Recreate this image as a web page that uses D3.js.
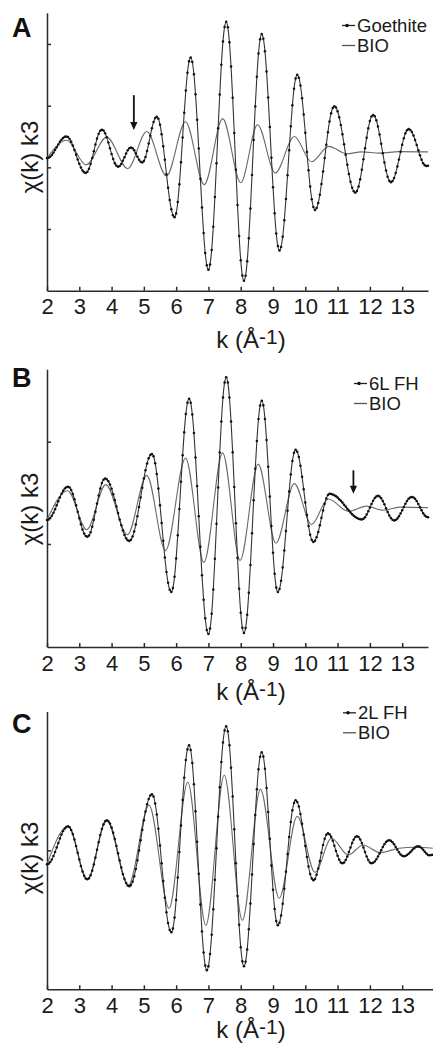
<!DOCTYPE html>
<html>
<head>
<meta charset="utf-8">
<script src="https://d3js.org/d3.v7.min.js"></script>
<style>
    body { margin: 0; background: #fff; }
    svg { display: block; font-family: "Liberation Sans", Arial, sans-serif; }
    .axis .domain, .axis .tick line { stroke: #2b2b2b; stroke-width: 1.5px; }
    .axis text { font-family: "Liberation Sans", Arial, sans-serif; font-size: 22px; fill: #1a1a1a; }
    .bio { fill: none; stroke: #6a6a6a; stroke-width: 1.1px; }
    .ref { fill: none; stroke: #333; stroke-width: 1.1px; }
    .dot { fill: #111; }
</style>
</head>
<body>
<div id="exafs"></div>
<script>
// k grid of the sampled (dotted) spectra, A^-1
var kStart = 2, kStep = 0.05;
var kTicks = [2, 3, 4, 5, 6, 7, 8, 9, 10, 11, 12, 13];

// chi(k)k^3, one value every 0.05 A^-1 (arbitrary units)
var goethite = [
    1.5, 1.56, 1.73, 2.01, 2.38, 2.8, 3.25, 3.7, 4.13, 4.49, 4.77, 4.94, 5.0, 4.9, 4.6, 4.14, 3.53, 2.81, 2.05, 1.29,
    0.58, -0.04, -0.5, -0.8, -0.9, -0.73, -0.24, 0.54, 1.52, 2.6, 3.69, 4.66, 5.44, 5.93, 6.1, 5.96, 5.53, 4.86, 4.03, 3.1,
    2.17, 1.34, 0.67, 0.24, 0.1, 0.22, 0.55, 1.06, 1.65, 2.24, 2.75, 3.08, 3.2, 3.08, 2.75, 2.27, 1.73, 1.25, 0.92, 0.8,
    1.02, 1.67, 2.65, 3.86, 5.14, 6.35, 7.33, 7.98, 8.2, 7.86, 6.91, 5.38, 3.42, 1.21, -1.11, -3.32, -5.28, -6.81, -7.76, -8.1,
    -7.48, -5.64, -2.76, 0.84, 4.85, 8.86, 12.46, 15.34, 17.18, 17.8, 17.08, 15.08, 11.85, 7.72, 3.04, -1.84, -6.52, -10.65, -13.88, -15.88,
    -16.6, -15.76, -13.42, -9.65, -4.82, 0.65, 6.35, 11.82, 16.65, 20.42, 22.76, 23.6, 22.72, 20.28, 16.33, 11.29, 5.58, -0.38, -6.09, -11.13,
    -15.08, -17.52, -18.4, -17.56, -15.24, -11.48, -6.68, -1.24, 4.44, 9.88, 14.68, 18.44, 20.76, 21.6, 20.86, 18.83, 15.53, 11.32, 6.54, 1.56,
    -3.22, -7.43, -10.73, -12.76, -13.5, -12.9, -11.25, -8.57, -5.15, -1.27, 2.77, 6.65, 10.07, 12.75, 14.4, 15.0, 14.54, 13.27, 11.21, 8.58,
    5.6, 2.5, -0.48, -3.11, -5.17, -6.44, -6.9, -6.61, -5.77, -4.45, -2.7, -0.67, 1.5, 3.67, 5.7, 7.45, 8.77, 9.61, 9.9, 9.69,
    9.09, 8.14, 6.88, 5.38, 3.74, 2.06, 0.42, -1.08, -2.34, -3.29, -3.89, -4.1, -3.84, -3.1, -1.92, -0.41, 1.31, 3.09, 4.81, 6.32,
    7.5, 8.24, 8.5, 8.27, 7.64, 6.61, 5.31, 3.82, 2.28, 0.79, -0.51, -1.54, -2.17, -2.4, -2.22, -1.72, -0.91, 0.12, 1.29, 2.51,
    3.68, 4.71, 5.52, 6.02, 6.2, 6.07, 5.73, 5.16, 4.44, 3.63, 2.77, 1.96, 1.24, 0.67, 0.33, 0.2, 0.25
];
var fh6L = [
    2.35, 2.4, 2.54, 2.76, 3.05, 3.4, 3.78, 4.17, 4.55, 4.9, 5.19, 5.41, 5.55, 5.6, 5.52, 5.27, 4.88, 4.37, 3.78, 3.15,
    2.52, 1.92, 1.42, 1.03, 0.78, 0.7, 0.82, 1.15, 1.69, 2.37, 3.15, 3.95, 4.73, 5.41, 5.95, 6.28, 6.4, 6.33, 6.14, 5.82,
    5.39, 4.87, 4.3, 3.67, 3.03, 2.4, 1.82, 1.31, 0.88, 0.56, 0.37, 0.3, 0.41, 0.73, 1.23, 1.9, 2.71, 3.61, 4.55, 5.49,
    6.39, 7.2, 7.87, 8.38, 8.69, 8.8, 8.57, 7.9, 6.83, 5.42, 3.79, 2.05, 0.31, -1.33, -2.73, -3.8, -4.47, -4.7, -4.3, -3.21,
    -1.43, 0.84, 3.41, 6.09, 8.66, 10.93, 12.71, 13.8, 14.2, 13.81, 12.66, 10.84, 8.45, 5.67, 2.7, -0.27, -3.05, -5.44, -7.26, -8.41,
    -8.8, -8.27, -6.82, -4.46, -1.45, 1.97, 5.53, 8.95, 11.96, 14.32, 15.77, 16.3, 15.77, 14.32, 11.97, 8.97, 5.57, 2.02, -1.38, -4.38,
    -6.73, -8.18, -8.7, -8.22, -6.91, -4.77, -2.05, 1.04, 4.26, 7.35, 10.07, 12.21, 13.52, 14.0, 13.55, 12.22, 10.15, 7.55, 4.65, 1.75,
    -0.85, -2.92, -4.25, -4.7, -4.41, -3.6, -2.3, -0.63, 1.26, 3.24, 5.13, 6.8, 8.1, 8.91, 9.2, 9.01, 8.49, 7.64, 6.56, 5.34,
    4.06, 2.84, 1.76, 0.91, 0.39, 0.2, 0.31, 0.65, 1.17, 1.82, 2.55, 3.28, 3.93, 4.45, 4.79, 4.9, 4.88, 4.84, 4.76, 4.66,
    4.53, 4.38, 4.22, 4.04, 3.84, 3.65, 3.45, 3.26, 3.08, 2.91, 2.76, 2.64, 2.53, 2.46, 2.41, 2.4, 2.46, 2.62, 2.87, 3.19,
    3.55, 3.91, 4.23, 4.48, 4.64, 4.7, 4.64, 4.47, 4.21, 3.87, 3.5, 3.13, 2.79, 2.53, 2.36, 2.3, 2.35, 2.48, 2.7, 2.97,
    3.29, 3.61, 3.93, 4.2, 4.42, 4.55, 4.6, 4.55, 4.41, 4.19, 3.91, 3.6, 3.29, 3.01, 2.79, 2.65, 2.6
];
var fh2L = [
    -1.4, -1.34, -1.18, -0.92, -0.58, -0.17, 0.27, 0.73, 1.17, 1.58, 1.92, 2.18, 2.34, 2.4, 2.31, 2.04, 1.63, 1.07, 0.43, -0.25,
    -0.93, -1.58, -2.13, -2.54, -2.81, -2.9, -2.8, -2.5, -2.04, -1.42, -0.71, 0.05, 0.81, 1.53, 2.14, 2.6, 2.9, 3.0, 2.91, 2.67,
    2.28, 1.76, 1.13, 0.43, -0.3, -1.03, -1.73, -2.36, -2.88, -3.27, -3.51, -3.6, -3.48, -3.14, -2.6, -1.87, -1.0, -0.02, 1.0, 2.02,
    3.0, 3.87, 4.6, 5.14, 5.48, 5.6, 5.37, 4.68, 3.59, 2.15, 0.48, -1.3, -3.08, -4.75, -6.19, -7.28, -7.97, -8.2, -7.81, -6.72,
    -4.96, -2.72, -0.18, 2.48, 5.02, 7.26, 9.02, 10.11, 10.5, 10.03, 8.72, 6.61, 3.91, 0.85, -2.35, -5.41, -8.11, -10.22, -11.53, -12.0,
    -11.59, -10.37, -8.44, -5.9, -2.95, 0.2, 3.35, 6.3, 8.84, 10.77, 11.99, 12.4, 11.9, 10.5, 8.25, 5.37, 2.1, -1.3, -4.57, -7.45,
    -9.7, -11.1, -11.6, -11.15, -9.91, -7.9, -5.33, -2.42, 0.62, 3.53, 6.1, 8.11, 9.35, 9.8, 9.38, 8.16, 6.24, 3.83, 1.15, -1.53,
    -3.94, -5.86, -7.08, -7.5, -7.24, -6.51, -5.34, -3.84, -2.14, -0.36, 1.34, 2.84, 4.01, 4.74, 5.0, 4.83, 4.37, 3.62, 2.66, 1.57,
    0.43, -0.66, -1.62, -2.37, -2.83, -3.0, -2.86, -2.45, -1.82, -1.06, -0.24, 0.53, 1.15, 1.56, 1.7, 1.61, 1.35, 0.95, 0.46, -0.06,
    -0.55, -0.95, -1.21, -1.3, -1.22, -0.98, -0.62, -0.18, 0.28, 0.73, 1.08, 1.32, 1.4, 1.32, 1.08, 0.73, 0.28, -0.18, -0.62, -0.98,
    -1.22, -1.3, -1.25, -1.12, -0.9, -0.63, -0.31, 0.01, 0.33, 0.6, 0.82, 0.95, 1.0, 0.95, 0.81, 0.6, 0.34, 0.06, -0.2, -0.41,
    -0.55, -0.6, -0.57, -0.48, -0.35, -0.19, -0.01, 0.15, 0.28, 0.37, 0.4, 0.36, 0.23, 0.05, -0.15, -0.33, -0.46, -0.5, -0.48, -0.45
];

// BIO spectra, turning points (k, value)
var bioA_k = [2.0, 2.61, 3.21, 3.85, 4.5, 5.09, 5.7, 6.29, 6.87, 7.44, 8.0, 8.52, 9.07, 9.66, 10.19, 10.73, 11.28, 11.74, 12.31, 12.9, 13.8];
var bioA_v = [1.5, 4.4, 0.4, 4.9, -0.2, 5.8, -1.4, 7.4, -2.8, 7.9, -2.5, 6.9, -0.9, 5.0, 0.9, 3.4, 2.2, 2.5, 2.3, 2.55, 2.5];
var bioB_k = [2.0, 2.64, 3.23, 3.82, 4.49, 5.09, 5.67, 6.29, 6.86, 7.44, 7.98, 8.54, 9.09, 9.66, 10.19, 10.71, 11.33, 11.9, 12.41, 12.93, 13.8];
var bioB_v = [2.35, 5.2, 1.4, 5.8, 0.9, 6.7, -0.65, 8.4, -1.8, 8.9, -1.6, 7.8, 0.07, 5.9, 1.9, 4.4, 3.2, 3.7, 3.3, 3.6, 3.55];
var bioC_k = [2.0, 2.65, 3.25, 3.85, 4.52, 5.16, 5.78, 6.36, 6.92, 7.49, 8.05, 8.61, 9.19, 9.75, 10.3, 10.81, 11.33, 11.79, 12.31, 12.9, 13.4, 13.95];
var bioC_v = [-1.4, 2.4, -2.9, 3.0, -3.5, 4.5, -5.8, 6.8, -7.5, 7.5, -7.0, 6.1, -4.8, 3.4, -2.2, 1.2, -0.47, 0.53, -0.23, 0.2, 0.3, 0.2];

// arrows marking features (k, from value, to value)
var arrowA = {k: 4.69, from: 11.7, to: 6.05};
var arrowB = {k: 11.49, from: 7.2, to: 4.9};

var panels = [
    {letter: "A", ref: goethite, refName: "Goethite", bioK: bioA_k, bioV: bioA_v, arrow: arrowA,
     top: 12.7, bottom: 290.7, yDomain: [-20, 25.07], yTicks: [-10, 0, 10, 20], kEnd: 13.8,
     letterY: 37, legX: 342, legY: 32, yTitleY: 157, xTitleY: 348},
    {letter: "B", ref: fh6L, refName: "6L FH", bioK: bioB_k, bioV: bioB_v, arrow: arrowB,
     top: 369.3, bottom: 647, yDomain: [-10.07, 17.07], yTicks: [0, 10], kEnd: 13.8,
     letterY: 387, legX: 354, legY: 390, yTitleY: 509, xTitleY: 700},
    {letter: "C", ref: fh2L, refName: "2L FH", bioK: bioC_k, bioV: bioC_v, arrow: null,
     top: 711.5, bottom: 989.3, yDomain: [-13.9, 13.88], yTicks: [0], kEnd: 13.95,
     letterY: 733, legX: 343, legY: 719.3, yTitleY: 858, xTitleY: 1038}
];

var width = 433, height = 1046;

var svg = d3.select("#exafs")
    .append("svg")
    .attr("width", width)
    .attr("height", height);

var x = d3.scaleLinear().domain([2, 13.8]).range([47, 428]);

panels.forEach(function(p) {
    var g = svg.append("g").attr("class", "panel");

    var y = d3.scaleLinear().domain(p.yDomain).range([p.bottom, p.top]);
    var xp = x.copy().domain([2, p.kEnd]).range([x(2), x(p.kEnd)]);

    /* ------- AXES -------*/
    g.append("g")
        .attr("class", "axis")
        .attr("transform", "translate(0," + p.bottom + ")")
        .call(d3.axisBottom(xp).tickValues(kTicks).tickSizeInner(-4).tickSizeOuter(0).tickPadding(8))
        .attr("font-size", null).attr("font-family", null);

    g.append("g")
        .attr("class", "axis")
        .attr("transform", "translate(" + x(2) + ",0)")
        .call(d3.axisLeft(y).tickValues(p.yTicks).tickSizeInner(-4).tickSizeOuter(0).tickFormat(""));

    /* ------- SPECTRA -------*/
    var bio = p.bioK.map(function(k, i) { return {k: k, v: p.bioV[i]}; });
    var ref = p.ref.map(function(v, i) { return {k: +(kStart + i * kStep).toFixed(2), v: v}; });

    var line = d3.line()
        .x(function(d) { return x(d.k); })
        .y(function(d) { return y(d.v); })
        .curve(d3.curveMonotoneX);

    g.append("path").attr("class", "bio").attr("d", line(bio));
    g.append("path").attr("class", "ref").attr("d", line(ref));

    g.append("g").selectAll("circle")
        .data(ref)
        .enter().append("circle")
        .attr("class", "dot")
        .attr("cx", function(d) { return x(d.k); })
        .attr("cy", function(d) { return y(d.v); })
        .attr("r", 1.25);

    /* ------- ARROW -------*/
    if (p.arrow) {
        var ax = x(p.arrow.k), y0 = y(p.arrow.from), y1 = y(p.arrow.to);
        g.append("line")
            .attr("x1", ax).attr("x2", ax)
            .attr("y1", y0).attr("y2", y1 - 6)
            .attr("stroke", "#111").attr("stroke-width", 1.8);
        g.append("path")
            .attr("d", "M" + (ax - 3.6) + "," + (y1 - 8) + "L" + (ax + 3.6) + "," + (y1 - 8) + "L" + ax + "," + y1 + "Z")
            .attr("fill", "#111");
    }

    /* ------- LEGEND -------*/
    var leg = g.append("g").attr("transform", "translate(" + p.legX + "," + p.legY + ")");
    [p.refName, "BIO"].forEach(function(name, i) {
        var ly = i * 20 - 6.5;
        leg.append("line")
            .attr("x1", 0).attr("x2", 13)
            .attr("y1", ly).attr("y2", ly)
            .attr("stroke", i === 0 ? "#222" : "#555").attr("stroke-width", 1.3);
        if (i === 0) {
            leg.append("circle").attr("cx", 5).attr("cy", ly).attr("r", 1.8).attr("fill", "#111");
        }
        leg.append("text")
            .attr("x", 15).attr("y", i * 20)
            .attr("font-size", 18.5).attr("fill", "#1a1a1a")
            .text(name);
    });

    /* ------- LABELS -------*/
    g.append("text")
        .attr("x", 12).attr("y", p.letterY)
        .attr("font-size", 27).attr("font-weight", "bold").attr("fill", "#111")
        .text(p.letter);

    g.append("text")
        .attr("transform", "translate(38," + p.yTitleY + ") rotate(-90)")
        .attr("text-anchor", "middle")
        .attr("font-size", 24).attr("fill", "#1a1a1a")
        .text("\u03c7(k) k3");

    var xt = g.append("text")
        .attr("x", 251).attr("y", p.xTitleY)
        .attr("text-anchor", "middle")
        .attr("font-size", 24).attr("fill", "#1a1a1a");
    xt.append("tspan").text("k (\u00c5");
    xt.append("tspan").attr("dy", -4).attr("font-size", 21).text("-1");
    xt.append("tspan").attr("dy", 4).text(")");
});
</script>
</body>
</html>
